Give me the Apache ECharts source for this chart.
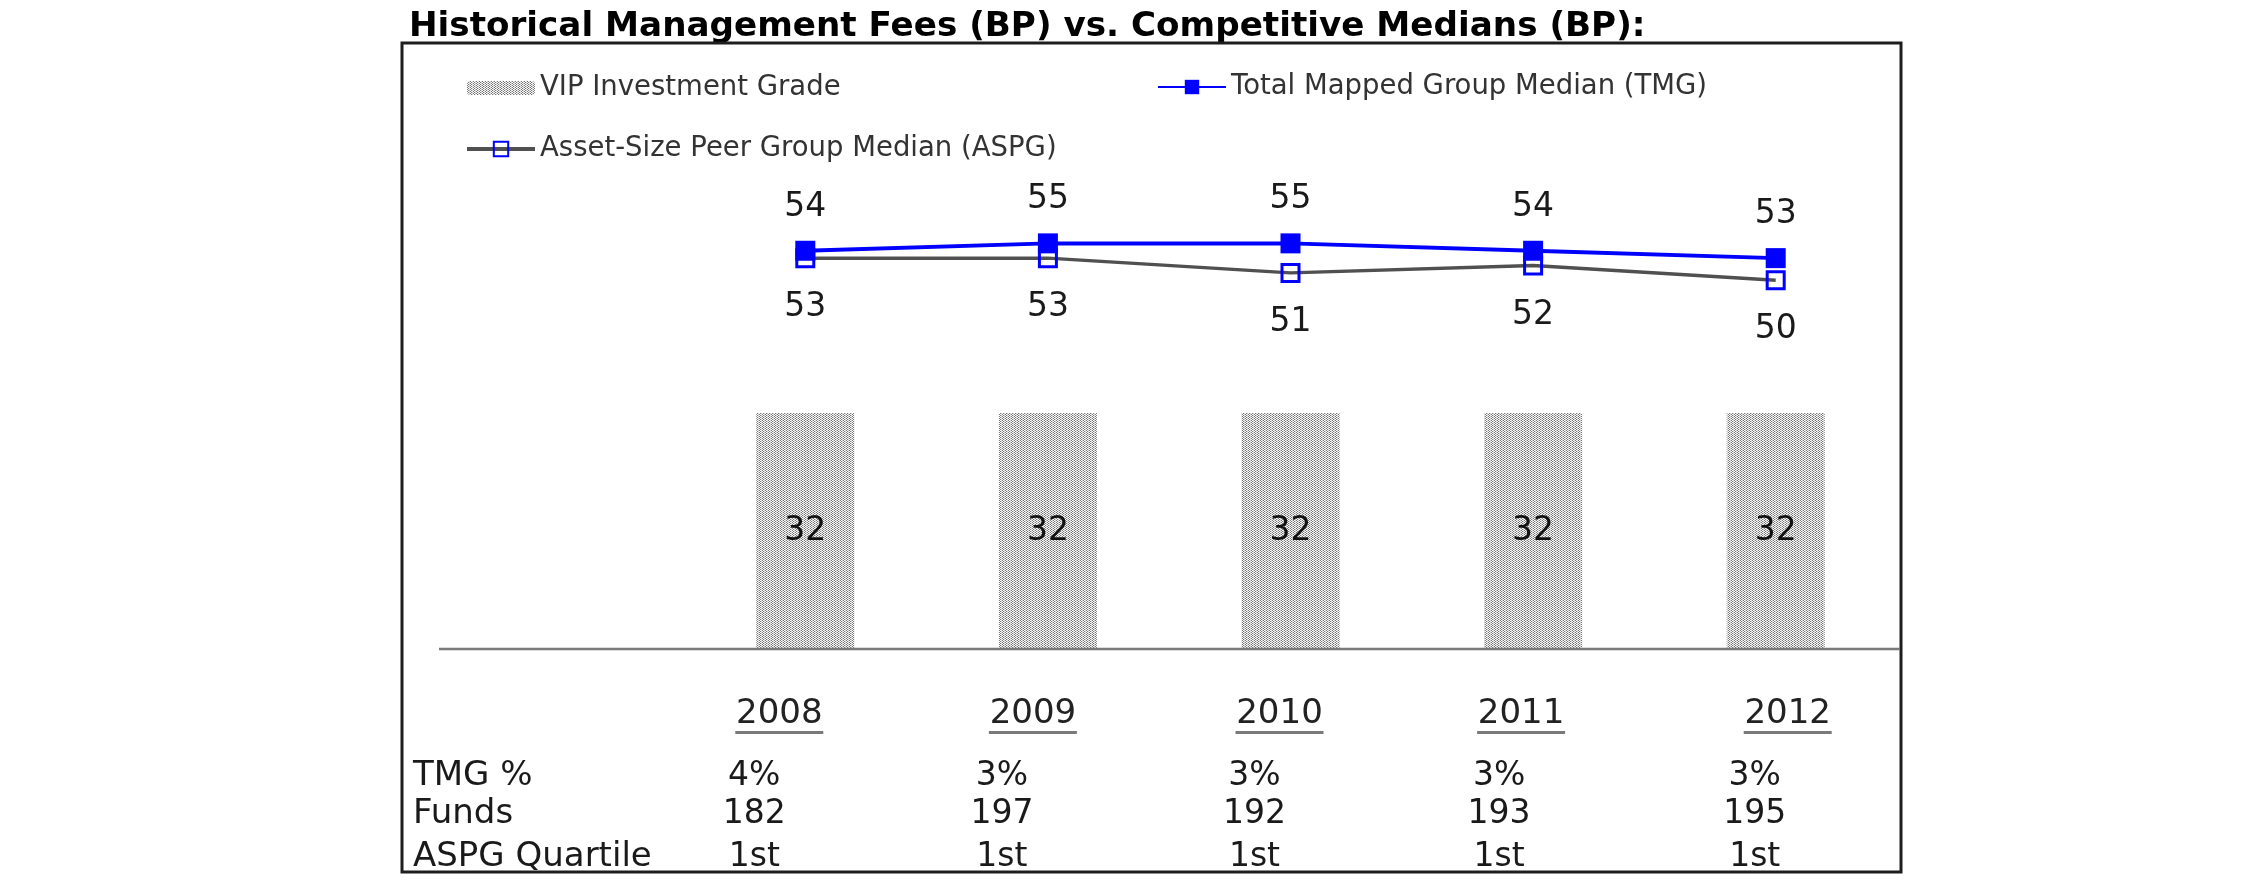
<!DOCTYPE html>
<html><head><meta charset="utf-8">
<script src="https://cdn.jsdelivr.net/npm/echarts@6/dist/echarts.min.js"></script>
<style>html,body{margin:0;padding:0;background:#fff}#c{width:2250px;height:895px}</style>
</head><body><div id="c"></div>
<script>
// ---------------- data ----------------
const years = ['2008', '2009', '2010', '2011', '2012'];
const vipGrade = [32, 32, 32, 32, 32];
const tmgMedian = [54, 55, 55, 54, 53];
const aspgMedian = [53, 53, 51, 52, 50];
const tmgPct = ['4%', '3%', '3%', '3%', '3%'];
const funds = ['182', '197', '192', '193', '195'];
const aspgQuartile = ['1st', '1st', '1st', '1st', '1st'];
const rowLabels = ['TMG %', 'Funds', 'ASPG Quartile'];
const titleText = 'Historical Management Fees (BP) vs. Competitive Medians (BP):';
const seriesNames = ['VIP Investment Grade', 'Total Mapped Group Median (TMG)', 'Asset-Size Peer Group Median (ASPG)'];

// ---------------- layout / style ----------------
const FONT = 'DejaVu Sans, Verdana, sans-serif';
const yearShift = [-26, -15, -11, -12, 12];
const valueShift = [-51, -46, -36, -34, -21];
const rowY = [776, 814, 857];

function makePattern() {
  const c = document.createElement('canvas');
  c.width = 6; c.height = 2;
  const ctx = c.getContext('2d');
  const cols = [['#787878', '#ffffff'], ['#ffffff', '#787878'], ['#d0d0d0', '#dcdcdc'],
                ['#787878', '#ffffff'], ['#ffffff', '#787878'], ['#e0e0e0', '#d0d0d0']];
  cols.forEach((col, x) => col.forEach((clr, y) => { ctx.fillStyle = clr; ctx.fillRect(x, y, 1, 1); }));
  return c;
}
const vipFill = { image: makePattern(), repeat: 'repeat' };

function spacers(shifts) {
  const rich = {};
  shifts.forEach((s, i) => {
    rich['l' + i] = { width: s > 0 ? 2 * s : 0, height: 3 };
    rich['r' + i] = { width: s < 0 ? -2 * s : 0, height: 3 };
  });
  return rich;
}
function wrap(i, shifts, body) {
  const s = shifts[i];
  return (s > 0 ? '{l' + i + '|}' : '') + body + (s < 0 ? '{r' + i + '|}' : '');
}

const yearRich = Object.assign(spacers(yearShift), {
  y: { fontSize: 34, lineHeight: 34, fontFamily: FONT, color: '#222' },
  u: { width: 88, height: 3, backgroundColor: '#7a7a7a' }
});
const valRich = Object.assign(spacers(valueShift), {
  v: { fontSize: 33, lineHeight: 34, fontFamily: FONT, color: '#1a1a1a' }
});

function valueAxis(arr, offset) {
  return {
    type: 'category', data: years, position: 'bottom', offset: offset,
    axisLine: { show: false }, axisTick: { show: false },
    axisLabel: {
      interval: 0, margin: 0, rich: valRich,
      formatter: (v, i) => wrap(i, valueShift, '{v|' + arr[i] + '}')
    }
  };
}

const chart = echarts.init(document.getElementById('c'));
chart.setOption({
  animation: false,
  backgroundColor: '#fff',
  title: {
    text: titleText, left: 409, top: 10, padding: 0,
    textStyle: { fontSize: 34.2, fontWeight: 'bold', fontFamily: FONT, color: '#000' }
  },
  legend: [
    { data: [seriesNames[0]], left: 467, top: 74, padding: 0, itemWidth: 68, itemHeight: 14,
      textStyle: { fontSize: 27.5, color: '#333', fontFamily: FONT } },
    { data: [seriesNames[1]], left: 1157, top: 73, padding: 0, itemWidth: 68, itemHeight: 18,
      lineStyle: { width: 2 },
      textStyle: { fontSize: 27.5, color: '#333', fontFamily: FONT } },
    { data: [seriesNames[2]], left: 465, top: 135, padding: 0, itemWidth: 68, itemHeight: 18,
      lineStyle: { width: 4 },
      textStyle: { fontSize: 27.5, color: '#333', fontFamily: FONT } }
  ],
  grid: { left: 684, right: 353, top: 59, bottom: 246 },
  xAxis: [
    {
      type: 'category', data: years, position: 'bottom',
      axisLine: { show: false }, axisTick: { show: false },
      axisLabel: {
        interval: 0, margin: 48, rich: yearRich,
        formatter: (v, i) => wrap(i, yearShift, '{y|' + v + '}') + '\n' + wrap(i, yearShift, '{u|}')
      }
    },
    valueAxis(tmgPct, 110),
    valueAxis(funds, 148),
    valueAxis(aspgQuartile, 191)
  ],
  yAxis: { type: 'value', min: 0, max: 80, show: false },
  series: [
    {
      name: seriesNames[0], type: 'bar', data: vipGrade, barWidth: 98,
      itemStyle: { color: vipFill },
      label: { show: true, position: 'inside', fontSize: 33, color: '#111', fontFamily: FONT }
    },
    {
      name: seriesNames[2], type: 'line', data: aspgMedian, z: 3,
      symbol: 'rect', symbolSize: 17,
      lineStyle: { color: '#505050', width: 3.5 },
      itemStyle: { color: 'rgba(255,255,255,0)', borderColor: '#0000ff', borderWidth: 3 },
      label: { show: true, position: 'bottom', distance: 23, fontSize: 33, color: '#1a1a1a', fontFamily: FONT }
    },
    {
      name: seriesNames[1], type: 'line', data: tmgMedian, z: 4,
      symbol: 'rect', symbolSize: 20,
      lineStyle: { color: '#0000ff', width: 4 },
      itemStyle: { color: '#0000ff' },
      label: { show: true, position: 'top', distance: 17, fontSize: 33, color: '#1a1a1a', fontFamily: FONT }
    }
  ],
  graphic: [
    { type: 'rect', shape: { x: 402, y: 43, width: 1499, height: 829 },
      style: { fill: 'none', stroke: '#1e1e1e', lineWidth: 3 }, z: 10 },
    { type: 'line', shape: { x1: 439, y1: 649, x2: 1900, y2: 649 },
      style: { stroke: '#7a7a7a', lineWidth: 2.5 }, z: 10 }
  ].concat(rowLabels.map((t, k) => ({
    type: 'text', x: 413, y: rowY[k],
    style: { text: t, fontSize: 34, fontFamily: FONT, fill: '#1a1a1a', verticalAlign: 'middle', align: 'left' }
  })))
});
</script></body></html>
